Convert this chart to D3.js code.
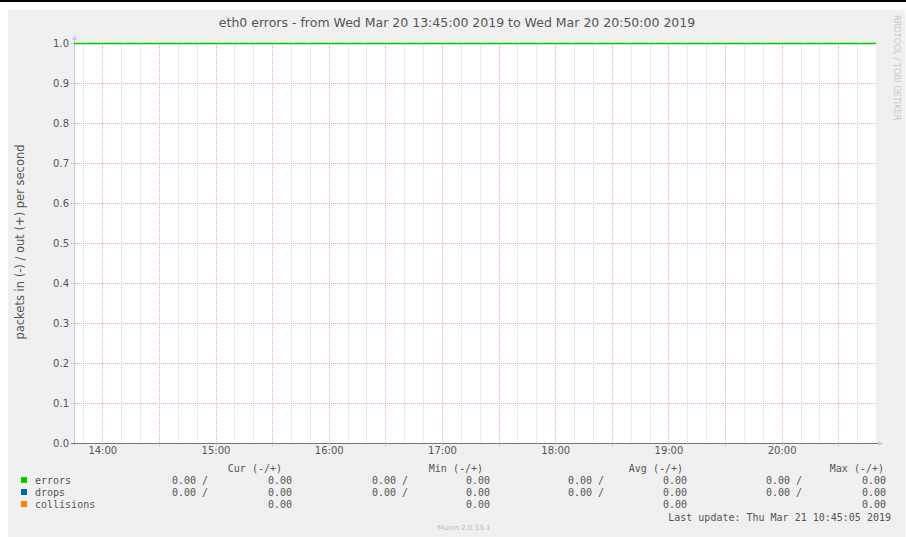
<!DOCTYPE html>
<html>
<head>
<meta charset="utf-8">
<script src="https://cdn.jsdelivr.net/npm/d3@7"></script>
<style>
  body { margin: 0; background: #fff; }
  svg { display: block; }
</style>
</head>
<body>
<div id="chart"></div>
<script>
// graph window
const startTime = '2019-03-20T13:45:00';
const endTime = '2019-03-20T20:50:00';
const yTicks = [0, 0.1, 0.2, 0.3, 0.4, 0.5, 0.6, 0.7, 0.8, 0.9, 1.0];

// plotted series (the green line sits at the top of the graph)
const errorsTimes = ['2019-03-20T13:45:00', '2019-03-20T20:50:00'];
const errorsValues = [1.0, 1.0];

// legend
const legendNames = ['errors', 'drops', 'collisions'];
const legendColors = ['#00cc00', '#0066b3', '#ff8000'];
const legendHeaders = ['Cur (-/+)', 'Min (-/+)', 'Avg (-/+)', 'Max (-/+)'];
const legendIn = [
  ['0.00 /', '0.00 /', '0.00 /', '0.00 /'],
  ['0.00 /', '0.00 /', '0.00 /', '0.00 /'],
  ['', '', '', '']
];
const legendOut = [
  ['0.00', '0.00', '0.00', '0.00'],
  ['0.00', '0.00', '0.00', '0.00'],
  ['0.00', '0.00', '0.00', '0.00']
];

const width = 906, height = 537;
const margin = { top: 43, right: 30, bottom: 94, left: 74 };
const plotW = width - margin.left - margin.right;
const plotH = height - margin.top - margin.bottom;

const parse = d3.timeParse('%Y-%m-%dT%H:%M:%S');

const svg = d3.select('#chart').append('svg')
  .attr('width', width)
  .attr('height', height);

// frame
svg.append('rect').attr('x', 0).attr('y', 0).attr('width', width).attr('height', 2).attr('fill', '#000');
svg.append('rect').attr('x', 8).attr('y', 10).attr('width', 897).attr('height', height - 10).attr('fill', '#f0f0f0');

const x = d3.scaleTime()
  .domain([parse(startTime), parse(endTime)])
  .range([margin.left, margin.left + plotW]);
const y = d3.scaleLinear()
  .domain([0, 1])
  .range([margin.top + plotH, margin.top]);

svg.append('rect')
  .attr('x', margin.left).attr('y', margin.top)
  .attr('width', plotW).attr('height', plotH)
  .attr('fill', '#fff');

// title
svg.append('text')
  .attr('x', 457).attr('y', 27)
  .attr('text-anchor', 'middle')
  .attr('font-family', 'DejaVu Sans')
  .attr('font-size', 12.5)
  .attr('fill', '#555')
  .text('eth0 errors - from Wed Mar 20 13:45:00 2019 to Wed Mar 20 20:50:00 2019');

// rrdtool credit
svg.append('text')
  .attr('transform', 'translate(894,15) rotate(90)')
  .attr('font-family', 'DejaVu Sans')
  .attr('font-size', 8.2)
  .attr('fill', '#c8c8c8')
  .text('RRDTOOL / TOBI OETIKER');

// grid
const minorTimes = d3.timeMinute.every(10).range(x.domain()[0], x.domain()[1]);
const grid = svg.append('g').attr('shape-rendering', 'crispEdges');
grid.selectAll('.vminor')
  .data(minorTimes.filter(d => d.getMinutes() % 30 !== 0))
  .enter().append('line')
  .attr('x1', d => Math.round(x(d)) + 0.5).attr('x2', d => Math.round(x(d)) + 0.5)
  .attr('y1', margin.top).attr('y2', margin.top + plotH)
  .attr('stroke', '#d4d4d4')
  .attr('stroke-dasharray', '1,1');
grid.selectAll('.vmajor')
  .data(minorTimes.filter(d => d.getMinutes() % 30 === 0))
  .enter().append('line')
  .attr('x1', d => Math.round(x(d)) + 0.5).attr('x2', d => Math.round(x(d)) + 0.5)
  .attr('y1', margin.top).attr('y2', margin.top + plotH + 3)
  .attr('stroke', '#eeaaaa')
  .attr('stroke-dasharray', '1,1');
grid.selectAll('.hmajor')
  .data(yTicks)
  .enter().append('line')
  .attr('x1', margin.left - 3).attr('x2', margin.left + plotW)
  .attr('y1', d => Math.round(y(d)) + 0.5).attr('y2', d => Math.round(y(d)) + 0.5)
  .attr('stroke', '#eeaaaa')
  .attr('stroke-dasharray', '1,1');

// y axis labels
const yAxis = d3.axisLeft(y).tickValues(yTicks).tickFormat(d3.format('.1f')).tickSize(0).tickPadding(5);
const yg = svg.append('g')
  .attr('transform', `translate(${margin.left},0)`)
  .call(yAxis);
yg.select('.domain').remove();
yg.selectAll('text')
  .attr('font-family', 'DejaVu Sans')
  .attr('font-size', 10)
  .attr('fill', '#555');

// x axis labels
const xAxis = d3.axisBottom(x).ticks(d3.timeHour.every(1)).tickFormat(d3.timeFormat('%H:%M')).tickSize(0).tickPadding(4);
const xg = svg.append('g')
  .attr('transform', `translate(0,${margin.top + plotH})`)
  .call(xAxis);
xg.select('.domain').remove();
xg.selectAll('text')
  .attr('font-family', 'DejaVu Sans')
  .attr('font-size', 10)
  .attr('fill', '#555');

// y axis title
svg.append('text')
  .attr('transform', `translate(24,${margin.top + plotH / 2 - 1}) rotate(-90)`)
  .attr('text-anchor', 'middle')
  .attr('font-family', 'DejaVu Sans')
  .attr('font-size', 11.5)
  .attr('fill', '#555')
  .text('packets in (-) / out (+) per second');

// axes lines and arrows
svg.append('line')
  .attr('x1', margin.left + 0.5).attr('x2', margin.left + 0.5)
  .attr('y1', margin.top - 5).attr('y2', margin.top + plotH + 3)
  .attr('stroke', '#c8c8f0');
svg.append('path')
  .attr('d', `M${margin.left - 2},${margin.top - 3}L${margin.left + 0.5},${margin.top - 8}L${margin.left + 3},${margin.top - 3}Z`)
  .attr('fill', '#c8c8f0');
svg.append('line')
  .attr('x1', margin.left - 3).attr('x2', margin.left + plotW + 2)
  .attr('y1', margin.top + plotH + 0.5).attr('y2', margin.top + plotH + 0.5)
  .attr('stroke', '#777');
svg.append('path')
  .attr('d', `M${margin.left + plotW + 2},${margin.top + plotH - 2}L${margin.left + plotW + 7},${margin.top + plotH + 0.5}L${margin.left + plotW + 2},${margin.top + plotH + 3}Z`)
  .attr('fill', '#c8c8f0');

// series line
const line = d3.line()
  .x((d, i) => x(parse(errorsTimes[i])))
  .y(d => Math.round(y(d)) + 0.5);
svg.append('path')
  .attr('d', line(errorsValues))
  .attr('fill', 'none')
  .attr('stroke', legendColors[0])
  .attr('stroke-width', 1.5);

// legend
const mono = 'DejaVu Sans Mono';
const lg = svg.append('g')
  .attr('font-family', mono)
  .attr('font-size', 10)
  .attr('fill', '#555');

const headerEnds = [282, 483, 683, 884];
const inEnds = [208, 408, 604, 802];
const outEnds = [292, 490, 687, 886];

lg.selectAll('.hdr').data(legendHeaders).enter().append('text')
  .attr('x', (d, i) => headerEnds[i]).attr('y', 472)
  .attr('text-anchor', 'end')
  .attr('xml:space', 'preserve')
  .text(d => d);

legendNames.forEach((name, r) => {
  const ry = 484 + r * 12;
  lg.append('rect')
    .attr('x', 21).attr('y', ry - 7).attr('width', 6).attr('height', 6)
    .attr('fill', legendColors[r]);
  lg.append('text').attr('x', 35).attr('y', ry).text(name);
  legendIn[r].forEach((v, c) => {
    if (v) lg.append('text').attr('x', inEnds[c]).attr('y', ry).attr('text-anchor', 'end').text(v);
  });
  legendOut[r].forEach((v, c) => {
    lg.append('text').attr('x', outEnds[c]).attr('y', ry).attr('text-anchor', 'end').text(v);
  });
});

lg.append('text')
  .attr('x', 891).attr('y', 521)
  .attr('text-anchor', 'end')
  .text('Last update: Thu Mar 21 10:45:05 2019');

svg.append('text')
  .attr('x', 464).attr('y', 530)
  .attr('text-anchor', 'middle')
  .attr('font-family', 'DejaVu Sans')
  .attr('font-size', 7)
  .attr('fill', '#bbb')
  .text('Munin 2.0.33-1');
</script>
</body>
</html>
